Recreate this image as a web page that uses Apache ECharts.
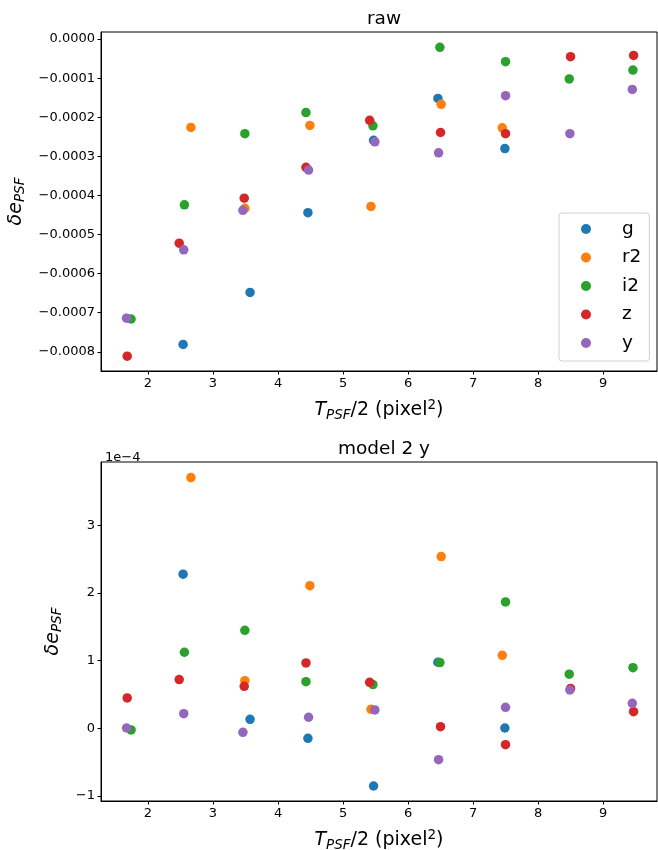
<!DOCTYPE html>
<html>
<head>
<meta charset="utf-8">
<script src="https://cdn.jsdelivr.net/npm/echarts@6/dist/echarts.min.js"></script>
<style>
  html, body { margin: 0; padding: 0; background: #fff; }
  #chart { width: 658px; height: 850px; }
</style>
</head>
<body>
<div id="chart"></div>
<script>
// bands, colours (matplotlib tab10)
var bands = ['g', 'r2', 'i2', 'z', 'y']
var colors = ['#1f77b4', '#ff7f0e', '#2ca02c', '#d62728', '#9467bd']

// T_PSF/2 positions of each band
var xG  = [2.54, 3.57, 4.46, 5.47, 6.46, 7.49]
var xR2 = [2.66, 3.49, 4.49, 5.43, 6.51, 7.45]
var xI2 = [1.74, 2.56, 3.49, 4.43, 5.46, 6.49, 7.50, 8.48, 9.46]
var xZ  = [1.68, 2.48, 3.48, 4.43, 5.41, 6.50, 7.50, 8.50, 9.47]
var xY  = [1.67, 2.55, 3.46, 4.47, 5.49, 6.47, 7.50, 8.49, 9.45]

// raw delta e_PSF
var rawG  = [-0.000781, -0.000648, -0.000444, -0.000259, -0.000152, -0.000280]
var rawR2 = [-0.000226, -0.000433, -0.000221, -0.000428, -0.000167, -0.000227]
var rawI2 = [-0.000716, -0.000424, -0.000242, -0.000188, -0.000222, -0.0000213, -0.000058, -0.000102, -0.0000793]
var rawZ  = [-0.000811, -0.000522, -0.000407, -0.000328, -0.000208, -0.000239, -0.000242, -0.0000452, -0.0000418]
var rawY  = [-0.000714, -0.000539, -0.000438, -0.000335, -0.000263, -0.000291, -0.000145, -0.000242, -0.000129]

// model 2 y residuals, in units of 1e-4
var modG  = [2.28, 0.133, -0.148, -0.854, 0.977, 0.004]
var modR2 = [3.71, 0.705, 2.11, 0.281, 2.54, 1.08]
var modI2 = [-0.025, 1.125, 1.45, 0.69, 0.646, 0.972, 1.87, 0.80, 0.897]
var modZ  = [0.449, 0.72, 0.621, 0.967, 0.68, 0.024, -0.242, 0.59, 0.246]
var modY  = [0.004, 0.216, -0.06, 0.163, 0.271, -0.464, 0.31, 0.567, 0.37]

// tick labels
var xTicks = [2, 3, 4, 5, 6, 7, 8, 9]
var rawTicks = [0, -0.0001, -0.0002, -0.0003, -0.0004, -0.0005, -0.0006, -0.0007, -0.0008]
var modTicks = [-1, 0, 1, 2, 3]

var xs = [xG, xR2, xI2, xZ, xY]
var raws = [rawG, rawR2, rawI2, rawZ, rawY]
var mods = [modG, modR2, modI2, modZ, modY]

var FONT = 'DejaVu Sans'
var minus = function (s) { return String(s).replace('-', '\u2212') }

function pairs(x, y) {
  return x.map(function (v, i) { return [v, y[i]] })
}

var xName = '{i|T}{sub|PSF}{n|/2 (pixel}{sup|2}{n|)}'
var yName = '{i|\u03b4e}{sub|PSF}'
var nameRich = {
  i: { fontFamily: FONT, fontSize: 19, fontStyle: 'italic', color: '#000', lineHeight: 24 },
  n: { fontFamily: FONT, fontSize: 19, color: '#000', lineHeight: 24 },
  sub: { fontFamily: FONT, fontSize: 13.5, fontStyle: 'italic', color: '#000', lineHeight: 15, verticalAlign: 'bottom' },
  sup: { fontFamily: FONT, fontSize: 13.5, color: '#000', lineHeight: 13, verticalAlign: 'top' }
}

function xAxisOf(gi) {
  return {
    gridIndex: gi, type: 'value', min: 1.277, max: 9.83,
    splitLine: { show: false },
    axisLine: { show: true, onZero: false, lineStyle: { color: '#000', width: 1 } },
    axisTick: { show: true, length: 3.5, customValues: xTicks, lineStyle: { color: '#000' } },
    axisLabel: { customValues: xTicks, fontFamily: FONT, fontSize: 13, color: '#000', margin: 6 },
    name: xName, nameLocation: 'middle', nameGap: 27,
    nameTextStyle: { rich: nameRich }
  }
}

function yAxisOf(gi, min, max, ticks, fmt, gap) {
  return {
    gridIndex: gi, type: 'value', min: min, max: max,
    splitLine: { show: false },
    axisLine: { show: true, onZero: false, lineStyle: { color: '#000', width: 1 } },
    axisTick: { show: true, length: 3.5, customValues: ticks, lineStyle: { color: '#000' } },
    axisLabel: { customValues: ticks, formatter: fmt, fontFamily: FONT, fontSize: 13, color: '#000', margin: 6 },
    name: yName, nameLocation: 'middle', nameGap: gap, nameRotate: 90,
    nameTextStyle: { rich: nameRich }
  }
}

var series = []
bands.forEach(function (b, k) {
  series.push({
    name: b, type: 'scatter', xAxisIndex: 0, yAxisIndex: 0,
    symbolSize: 9.5, itemStyle: { color: colors[k], opacity: 1 },
    data: pairs(xs[k], raws[k])
  })
})
bands.forEach(function (b, k) {
  series.push({
    name: b, type: 'scatter', xAxisIndex: 1, yAxisIndex: 1,
    symbolSize: 9.5, itemStyle: { color: colors[k], opacity: 1 },
    data: pairs(xs[k], mods[k])
  })
})

var chart = echarts.init(document.getElementById('chart'), null, { renderer: 'canvas' })
var option = {
  backgroundColor: '#fff',
  animation: false,
  title: [
    { text: 'raw', left: 379, top: 5, textAlign: 'center',
      textStyle: { fontFamily: FONT, fontSize: 18.5, fontWeight: 'normal', color: '#000' } },
    { text: 'model 2 y', left: 379, top: 435, textAlign: 'center',
      textStyle: { fontFamily: FONT, fontSize: 18.5, fontWeight: 'normal', color: '#000' } },
    { text: '1e\u22124', left: 100, top: 446,
      textStyle: { fontFamily: FONT, fontSize: 13, fontWeight: 'normal', color: '#000' } }
  ],
  legend: {
    data: bands, orient: 'vertical', left: 559, top: 213,
    icon: 'circle', itemWidth: 50, itemHeight: 10, itemGap: 8.5,
    padding: [6, 8, 8, 22],
    backgroundColor: 'rgba(255,255,255,0.8)',
    borderColor: '#d0d0d0', borderWidth: 1, borderRadius: 3,
    textStyle: { fontFamily: FONT, fontSize: 18.5, color: '#000', lineHeight: 20, padding: [0, 0, 0, 6] }
  },
  grid: [
    { left: 101, top: 32, width: 556, height: 339, show: true, borderColor: '#000', borderWidth: 1, outerBoundsMode: 'none' },
    { left: 101, top: 462, width: 556, height: 339, show: true, borderColor: '#000', borderWidth: 1, outerBoundsMode: 'none' }
  ],
  xAxis: [xAxisOf(0), xAxisOf(1)],
  yAxis: [
    yAxisOf(0, -0.000849, 0.000018, rawTicks, function (v) { return minus(v.toFixed(4)) }, 66),
    yAxisOf(1, -1.076, 3.94, modTicks, function (v) { return minus(Math.round(v)) }, 33)
  ],
  series: series
}
chart.setOption(option)
</script>
</body>
</html>
